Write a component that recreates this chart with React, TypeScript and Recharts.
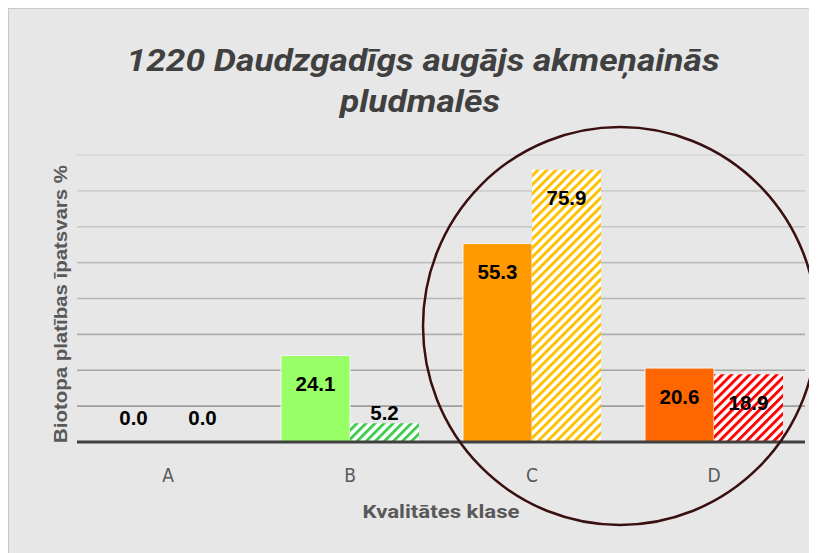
import { Bar, BarChart, CartesianGrid, Cell, LabelList, XAxis, YAxis } from "recharts";

const categories = ["A", "B", "C", "D"];
const solidValues = [0.0, 24.1, 55.3, 20.6];
const hatchedValues = [0.0, 5.2, 75.9, 18.9];
const solidColors = ["#99FF66", "#99FF66", "#FF9900", "#FF6600"];
const hatchColors = ["#40CC50", "#40CC50", "#FFC000", "#FF0000"];
const yTicks = [0, 10, 20, 30, 40, 50, 60, 70, 80];

const data = categories.map((cat, i) => ({
  cat,
  solid: solidValues[i],
  hatched: hatchedValues[i],
}));

const W = 808;
const H = 544;

function ValueLabel(props: any) {
  const { x, y, width, height, value } = props;
  const cx = x + width / 2;
  let cy = y + 28;
  if (value < 10) cy = Math.min(y - 11, y + height - 25);
  return (
    <text
      x={cx}
      y={cy}
      textAnchor="middle"
      dominantBaseline="central"
      fontFamily="'Liberation Sans', Arial, sans-serif"
      fontWeight="bold"
      fontSize={20.5}
      fill="#000"
    >
      {Number(value).toFixed(1)}
    </text>
  );
}

function CatTick(props: any) {
  const { x, y, payload } = props;
  return (
    <text
      x={x}
      y={y + 25}
      textAnchor="middle"
      dominantBaseline="central"
      fontFamily="'Liberation Sans Narrow', 'DejaVu Sans Condensed', Roboto, sans-serif"
      fontSize={19}
      fill="#595959"
    >
      {payload.value}
    </text>
  );
}

export default function App() {
  return (
    <div
      style={{
        position: "relative",
        width: W,
        height: H,
        border: "1px solid #c8c8c8",
        background: "#e7e7e7",
        overflow: "hidden",
      }}
    >
      <BarChart
        width={W}
        height={H}
        data={data}
        margin={{ top: 146, right: 12, bottom: 81, left: 68 }}
        barCategoryGap={22}
        barGap={0}
      >
        <defs>
          <linearGradient id="gridGrad" gradientUnits="userSpaceOnUse" x1="0" y1="146" x2="0" y2="433">
            <stop offset="0%" stopColor="#d6d6d6" />
            <stop offset="100%" stopColor="#969696" />
          </linearGradient>
          {hatchColors.map((c, i) => (
            <pattern
              key={i}
              id={`hatch${i}`}
              patternUnits="userSpaceOnUse"
              width={6.4}
              height={6.4}
              patternTransform="rotate(45)"
            >
              <rect width={6.4} height={6.4} fill="#ffffff" />
              <rect width={2.9} height={6.4} fill={c} />
            </pattern>
          ))}
        </defs>
        <CartesianGrid vertical={false} stroke="url(#gridGrad)" strokeWidth={1.6} />
        <YAxis hide domain={[0, 80]} ticks={yTicks} />
        <XAxis
          dataKey="cat"
          height={30}
          axisLine={{ stroke: "#404040", strokeWidth: 3 }}
          tickLine={false}
          tick={<CatTick />}
          interval={0}
        />
        <Bar dataKey="solid" isAnimationActive={false} stroke="#f4f4f4" strokeWidth={1} minPointSize={0.01}>
          {data.map((_, i) => (
            <Cell key={i} fill={solidColors[i]} />
          ))}
          <LabelList dataKey="solid" content={<ValueLabel />} />
        </Bar>
        <Bar dataKey="hatched" isAnimationActive={false} minPointSize={0.01}>
          {data.map((_, i) => (
            <Cell key={i} fill={`url(#hatch${i})`} />
          ))}
          <LabelList dataKey="hatched" content={<ValueLabel />} />
        </Bar>
      </BarChart>
      <svg
        width={W}
        height={H}
        style={{ position: "absolute", left: 0, top: 0, pointerEvents: "none" }}
      >
        <text
          x={414}
          y={62}
          textAnchor="middle"
          fontFamily="Roboto, 'Liberation Sans', sans-serif"
          fontStyle="italic"
          fontWeight="bold"
          fontSize={31}
          fill="#404040"
          textLength={593}
          lengthAdjust="spacingAndGlyphs"
        >
          1220 Daudzgadīgs augājs akmeņainās
        </text>
        <text
          x={411}
          y={103}
          textAnchor="middle"
          fontFamily="Roboto, 'Liberation Sans', sans-serif"
          fontStyle="italic"
          fontWeight="bold"
          fontSize={31}
          fill="#404040"
          textLength={160}
          lengthAdjust="spacingAndGlyphs"
        >
          pludmalēs
        </text>
        <text
          x={51}
          y={295}
          transform="rotate(-90 51 295)"
          textAnchor="middle"
          dominantBaseline="central"
          fontFamily="'Liberation Sans', Arial, sans-serif"
          fontWeight="bold"
          fontSize={19}
          fill="#595959"
          textLength={278}
          lengthAdjust="spacingAndGlyphs"
        >
          Biotopa platības īpatsvars %
        </text>
        <text
          x={432}
          y={509}
          textAnchor="middle"
          fontFamily="Roboto, 'Liberation Sans', sans-serif"
          fontWeight="bold"
          fontSize={19}
          fill="#595959"
          textLength={157}
          lengthAdjust="spacingAndGlyphs"
        >
          Kvalitātes klase
        </text>
        <ellipse cx={611} cy={317} rx={197} ry={199} fill="none" stroke="#3a0f0f" strokeWidth={2.5} />
      </svg>
    </div>
  );
}
